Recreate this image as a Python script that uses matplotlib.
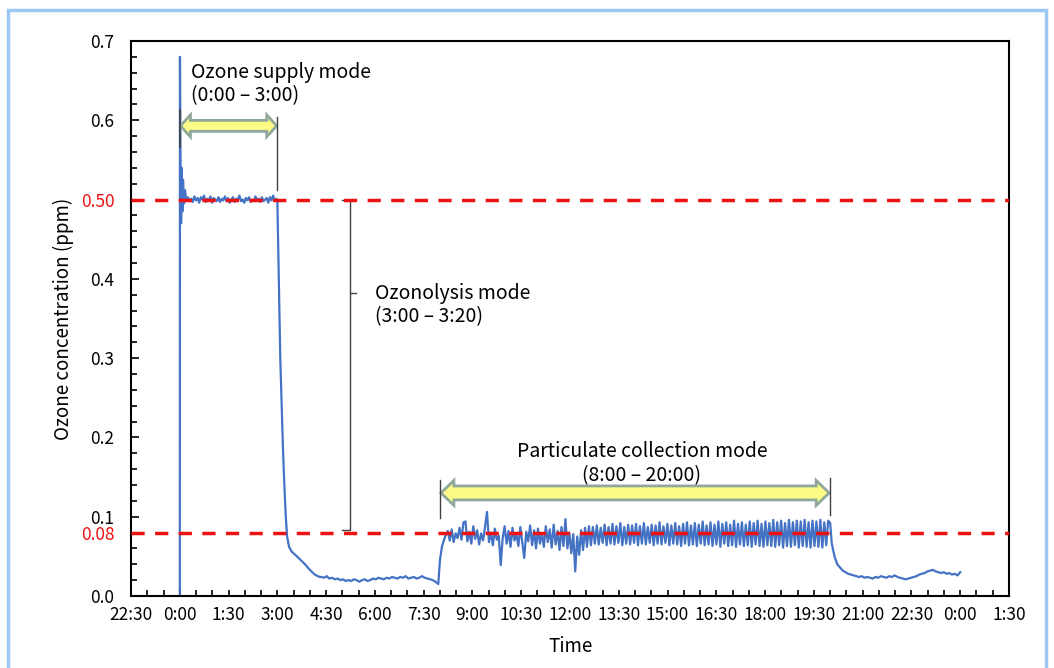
import numpy as np
import matplotlib
matplotlib.use("Agg")
import matplotlib.pyplot as plt
from matplotlib.patches import Polygon, Rectangle

plt.rcParams['font.family'] = ['Noto Sans CJK JP', 'DejaVu Sans']

# time axis in hours counted from 0:00 of the first day
tick_pos = [-1.5 + 1.5 * k for k in range(19)]
tick_labels = ["22:30", "0:00", "1:30", "3:00", "4:30", "6:00", "7:30", "9:00",
               "10:30", "12:00", "13:30", "15:00", "16:30", "18:00", "19:30",
               "21:00", "22:30", "0:00", "1:30"]

# ozone supply start-up
spike_t = [0.00, 0.005, 0.02, 0.04, 0.06, 0.08, 0.10, 0.13, 0.16, 0.20]
spike_v = [0.000, 0.680, 0.560, 0.470, 0.540, 0.485, 0.525, 0.495, 0.512, 0.498]

# ozone supply plateau (0:15 - 3:00)
plateau_v = [0.503, 0.498, 0.501, 0.497, 0.504, 0.499, 0.502, 0.496, 0.503, 0.500,
             0.505, 0.497, 0.501, 0.499, 0.504, 0.496, 0.502, 0.500, 0.498, 0.503,
             0.497, 0.501, 0.499, 0.504, 0.498, 0.502, 0.496, 0.500, 0.503, 0.497,
             0.501, 0.499, 0.505, 0.498, 0.500, 0.496, 0.502, 0.499, 0.503, 0.497,
             0.500, 0.498, 0.504, 0.499, 0.501, 0.497, 0.503, 0.498, 0.500, 0.502,
             0.496, 0.503, 0.499, 0.505, 0.498, 0.501]

# ozonolysis decay
decay_t = [3.00, 3.02, 3.05, 3.09, 3.13, 3.17, 3.21, 3.26, 3.30, 3.36, 3.44,
           3.55, 3.70, 3.85, 4.00, 4.15, 4.30]
decay_v = [0.500, 0.455, 0.380, 0.300, 0.245, 0.190, 0.145, 0.100, 0.075, 0.062,
           0.056, 0.052, 0.046, 0.040, 0.033, 0.027, 0.024]

# low level before particulate collection (4:21 - 7:57)
low_v = [0.024, 0.023, 0.025, 0.022, 0.023, 0.021, 0.022, 0.020, 0.021, 0.019,
         0.020, 0.019, 0.021, 0.020, 0.018, 0.020, 0.021, 0.019, 0.020, 0.022,
         0.021, 0.023, 0.022, 0.021, 0.023, 0.022, 0.024, 0.023, 0.022, 0.024,
         0.023, 0.025, 0.022, 0.023, 0.024, 0.022, 0.023, 0.025, 0.023, 0.022,
         0.021, 0.020, 0.018, 0.015]

# particulate collection mode (8:00 - 20:00)
collect_v = [0.045, 0.062, 0.070, 0.077, 0.082, 0.070, 0.084, 0.068, 0.079, 0.073,
             0.086, 0.071, 0.093, 0.094, 0.069, 0.081, 0.066, 0.088, 0.072, 0.083,
             0.065, 0.079, 0.070, 0.087, 0.106, 0.068, 0.080, 0.064, 0.085, 0.071,
             0.076, 0.039, 0.073, 0.088, 0.066, 0.082, 0.062, 0.086, 0.070, 0.078,
             0.063, 0.087, 0.067, 0.048, 0.081, 0.069, 0.089, 0.064, 0.083, 0.060,
             0.085, 0.066, 0.079, 0.062, 0.088, 0.068, 0.084, 0.061, 0.090, 0.065,
             0.082, 0.058, 0.087, 0.063, 0.097, 0.060, 0.080, 0.054, 0.078, 0.031,
             0.075, 0.052, 0.083, 0.058, 0.086, 0.062, 0.088, 0.064, 0.087, 0.066,
             0.089, 0.065, 0.086, 0.067, 0.090, 0.064, 0.087, 0.066, 0.091, 0.065,
             0.088, 0.067, 0.092, 0.064, 0.087, 0.066, 0.090, 0.065, 0.089, 0.067,
             0.091, 0.064, 0.088, 0.066, 0.092, 0.065, 0.087, 0.067, 0.090, 0.064,
             0.089, 0.066, 0.093, 0.065, 0.088, 0.067, 0.091, 0.064, 0.089, 0.066,
             0.092, 0.065, 0.088, 0.063, 0.091, 0.066, 0.093, 0.064, 0.089, 0.065,
             0.092, 0.063, 0.090, 0.066, 0.094, 0.064, 0.089, 0.065, 0.093, 0.063,
             0.090, 0.065, 0.094, 0.062, 0.091, 0.066, 0.093, 0.063, 0.090, 0.064,
             0.095, 0.062, 0.091, 0.065, 0.093, 0.063, 0.090, 0.064, 0.094, 0.062,
             0.092, 0.065, 0.095, 0.063, 0.091, 0.062, 0.094, 0.064, 0.092, 0.063,
             0.096, 0.062, 0.093, 0.064, 0.095, 0.061, 0.092, 0.063, 0.096, 0.062,
             0.093, 0.064, 0.095, 0.061, 0.094, 0.063, 0.096, 0.062, 0.093, 0.061,
             0.095, 0.063, 0.094, 0.062, 0.096, 0.061, 0.093, 0.064, 0.095, 0.092]

# after collection (20:03 - 0:00)
post_v = [0.066, 0.050, 0.040, 0.036, 0.032, 0.030, 0.028, 0.027, 0.026, 0.025,
          0.024, 0.025, 0.023, 0.024, 0.023, 0.022, 0.024, 0.023, 0.025, 0.024,
          0.023, 0.025, 0.024, 0.026, 0.024, 0.023, 0.022, 0.021, 0.022, 0.023,
          0.024, 0.025, 0.027, 0.028, 0.029, 0.031, 0.032, 0.033, 0.031, 0.030,
          0.029, 0.030, 0.028, 0.029, 0.027, 0.028, 0.026, 0.030]

t = np.concatenate([spike_t,
                    np.linspace(0.25, 2.97, len(plateau_v)),
                    decay_t,
                    np.linspace(4.35, 7.95, len(low_v)),
                    np.linspace(8.0, 20.0, len(collect_v)),
                    np.linspace(20.05, 24.0, len(post_v))])
v = np.concatenate([spike_v, plateau_v, decay_v, low_v, collect_v, post_v])


def block_arrow(ax, x0, x1, y, shaft, head, head_len):
    # double headed block arrow, sizes given in pixels
    xa, yc = ax.transData.transform((x0, y))
    xb, _ = ax.transData.transform((x1, y))
    pts = [(xa, yc), (xa + head_len, yc + head), (xa + head_len, yc + shaft),
           (xb - head_len, yc + shaft), (xb - head_len, yc + head), (xb, yc),
           (xb - head_len, yc - head), (xb - head_len, yc - shaft),
           (xa + head_len, yc - shaft), (xa + head_len, yc - head)]
    pts = ax.transData.inverted().transform(pts)
    ax.add_patch(Polygon(pts, closed=True, fc='#fbfb86', ec='#8fa89b',
                         lw=2, zorder=4))


def main():
    fig = plt.figure(figsize=(10.54, 6.68), dpi=100)
    ax = fig.add_axes([0.1243, 0.1078, 0.833, 0.8308])
    ax.set_xlim(-1.5, 25.5)
    ax.set_ylim(0, 0.7)

    ax.axhline(0.5, color='#ee1111', lw=2.5, dashes=(3.8, 3.0), zorder=3)
    ax.axhline(0.08, color='#ee1111', lw=2.5, dashes=(3.8, 3.0), zorder=3)
    ax.plot(t, v, color='#4472c4', lw=1.6, zorder=2)

    ax.set_xticks(tick_pos)
    ax.set_xticklabels(tick_labels)
    ax.set_xticks(np.arange(-1.5, 25.6, 0.5), minor=True)
    yt = [0.0, 0.08, 0.1, 0.2, 0.3, 0.4, 0.5, 0.6, 0.7]
    ax.set_yticks(yt)
    ax.set_yticklabels(["0.0", "0.08", "0.1", "0.2", "0.3", "0.4", "0.50", "0.6", "0.7"])
    ax.set_yticks(np.arange(0, 0.701, 0.02), minor=True)
    ax.tick_params(which='both', direction='in', top=False, right=False,
                   labelsize=12.5, colors='black', width=1.2)
    ax.tick_params(axis='y', which='major', length=6, pad=12)
    ax.tick_params(axis='y', which='minor', length=4)
    ax.tick_params(axis='x', which='both', length=4.5, pad=7)
    for lab, val in zip(ax.get_yticklabels(), yt):
        if val in (0.08, 0.5):
            lab.set_color('#ee1111')
    for sp in ax.spines.values():
        sp.set_linewidth(1.5)

    ax.set_xlabel('Time', fontsize=13.5, labelpad=9)
    ax.set_ylabel('Ozone concentration (ppm)', fontsize=13.5, labelpad=5)

    # mode markers
    grey = '#404040'
    ax.plot([0.0, 0.0], [0.566, 0.613], color=grey, lw=1.2, zorder=5)
    ax.plot([3.0, 3.0], [0.512, 0.604], color=grey, lw=1.0, zorder=5)
    ax.plot([8.0, 8.0], [0.098, 0.146], color=grey, lw=1.0, zorder=5)
    ax.plot([20.0, 20.0], [0.102, 0.149], color=grey, lw=1.0, zorder=5)
    block_arrow(ax, 0.02, 2.98, 0.593, 5.5, 11, 10)
    block_arrow(ax, 8.03, 19.97, 0.130, 7, 12.5, 13)

    # ozonolysis bracket
    ax.plot([5.0, 5.22, 5.22, 5.0], [0.5, 0.5, 0.083, 0.083], color=grey, lw=1.0)
    ax.plot([5.22, 5.43], [0.382, 0.382], color=grey, lw=1.0)

    ax.text(0.33, 0.646, 'Ozone supply mode\n(0:00 – 3:00)', fontsize=14,
            ha='left', va='center', linespacing=1.15)
    ax.text(5.99, 0.367, 'Ozonolysis mode\n(3:00 – 3:20)', fontsize=14,
            ha='left', va='center', linespacing=1.15)
    ax.text(14.21, 0.167, 'Particulate collection mode\n(8:00 – 20:00)',
            fontsize=14, ha='center', va='center', multialignment='center',
            linespacing=1.15)

    # light blue frame round the picture
    fig.add_artist(Rectangle((8 / 1054, -0.1), 1038 / 1054, 1.1 - 10 / 668,
                             transform=fig.transFigure, fill=False,
                             ec='#9dc7f4', lw=2.5))

    fig.savefig('out.png', dpi=100)


if __name__ == "__main__":
    main()
